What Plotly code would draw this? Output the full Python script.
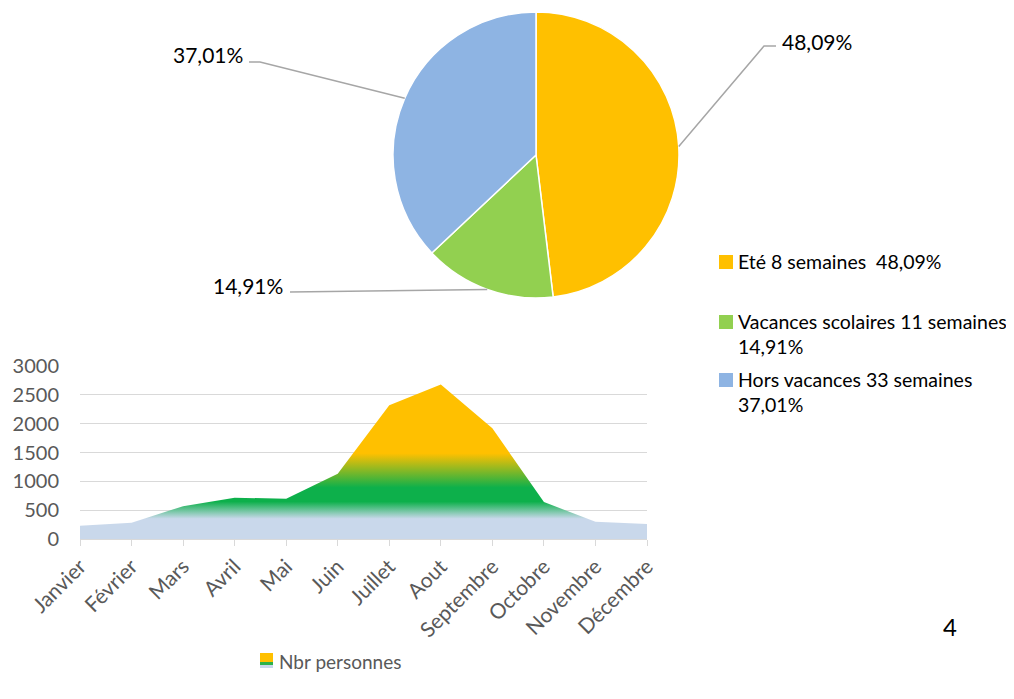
import math
import plotly.graph_objects as go

# ---------------- data ----------------
months = ["Janvier", "Février", "Mars", "Avril", "Mai", "Juin", "Juillet",
          "Aout", "Septembre", "Octobre", "Novembre", "Décembre"]
nbr_personnes = [230, 280, 570, 715, 700, 1130, 2320, 2680, 1920, 640, 300, 260]

pie_labels = ["Eté 8 semaines  48,09%", "Vacances scolaires 11 semaines 14,91%",
              "Hors vacances 33 semaines 37,01%"]
pie_values = [48.09, 14.91, 37.01]
pie_texts = ["48,09%", "14,91%", "37,01%"]
pie_colors = ["#FFC000", "#92D050", "#8EB4E3"]

legend_lines = [["Eté 8 semaines  48,09%"],
                ["Vacances scolaires 11 semaines", "14,91%"],
                ["Hors vacances 33 semaines", "37,01%"]]
area_legend = "Nbr personnes"
y_ticks = [0, 500, 1000, 1500, 2000, 2500, 3000]

W, H = 1014, 699
OFF = 8  # page body margin
FW, FH = W - OFF, H - OFF
FONT = "Lato"


def px(x):
    return (x - OFF) / FW


def py(y):
    return 1 - (y - OFF) / FH


# pie geometry in pixels
pie_left, pie_right, pie_top, pie_bottom = 393, 679, 12, 298
cx = (pie_left + pie_right) / 2
cy = (pie_top + pie_bottom) / 2
R = (pie_right - pie_left) / 2

fig = go.Figure()

fig.add_trace(go.Pie(
    labels=pie_labels, values=pie_values, sort=False, direction="clockwise",
    rotation=0, textinfo="none", hoverinfo="label+percent",
    marker=dict(colors=pie_colors, line=dict(color="white", width=1.5)),
    domain=dict(x=[px(pie_left), px(pie_right)], y=[py(pie_bottom), py(pie_top)]),
    showlegend=False,
))

fig.add_trace(go.Scatter(
    x=months, y=nbr_personnes, name=area_legend, mode="lines",
    line=dict(width=0), fill="tozeroy",
    fillgradient=dict(
        type="vertical", start=0, stop=2700,
        colorscale=[[0.0, "#C9D8EB"], [0.13, "#C9D8EB"], [0.24, "#0DB04B"],
                    [0.33, "#0DB04B"], [0.55, "#FFC000"], [1.0, "#FFC000"]]),
    xaxis="x", yaxis="y", showlegend=False,
))

# ---------------- pie data labels with leader lines ----------------
total = sum(pie_values)
label_pos = [
    dict(elbow=(776, 46), knee=(764, 46), text=(780, 41), anchor="left"),
    dict(elbow=(290, 292), knee=(290, 292), text=(285, 285), anchor="right"),
    dict(elbow=(249, 62), knee=(260, 62), text=(245, 55), anchor="right"),
]
cum = 0
shapes = []
annotations = []
for v, t, lp in zip(pie_values, pie_texts, label_pos):
    mid = (cum + v / 2) / total * 2 * math.pi
    cum += v
    ex = cx + R * math.sin(mid)
    ey = cy - R * math.cos(mid)
    path = "M {} {} L {} {} L {} {}".format(
        px(ex), py(ey), px(lp["knee"][0]), py(lp["knee"][1]),
        px(lp["elbow"][0]), py(lp["elbow"][1]))
    shapes.append(dict(type="path", xref="paper", yref="paper", path=path,
                       line=dict(color="#A6A6A6", width=1.5)))
    annotations.append(dict(
        xref="paper", yref="paper", x=px(lp["text"][0]), y=py(lp["text"][1]),
        text=t, showarrow=False, xanchor=lp["anchor"], yanchor="middle",
        font=dict(family=FONT, size=21, color="#000000")))

# ---------------- pie legend (manual) ----------------
leg_rows = [262, 322, 380]
for color, lines, yrow in zip(pie_colors, legend_lines, leg_rows):
    shapes.append(dict(type="rect", xref="paper", yref="paper",
                       x0=px(719), x1=px(733), y0=py(yrow + 7), y1=py(yrow - 7),
                       fillcolor=color, line=dict(width=0)))
    for i, line in enumerate(lines):
        annotations.append(dict(
            xref="paper", yref="paper",
            x=px(736), y=py(yrow + i * 25),
            text=line, showarrow=False, xanchor="left", yanchor="middle",
            font=dict(family=FONT, size=19.5, color="#000000")))

# ---------------- area legend (manual gradient swatch) ----------------
for c, y0, y1 in [("#FFC000", 653, 662), ("#2DB24A", 662, 665), ("#C9D8EB", 665, 668)]:
    shapes.append(dict(type="rect", xref="paper", yref="paper",
                       x0=px(260), x1=px(273), y0=py(y1), y1=py(y0),
                       fillcolor=c, line=dict(width=0)))
annotations.append(dict(xref="paper", yref="paper", x=px(277), y=py(661),
                        text=area_legend, showarrow=False, xanchor="left",
                        yanchor="middle",
                        font=dict(family=FONT, size=19, color="#595959")))

annotations.append(dict(xref="paper", yref="paper", x=px(950), y=py(626),
                        text="4", showarrow=False, xanchor="center",
                        yanchor="middle",
                        font=dict(family=FONT, size=24, color="#000000")))

fig.update_layout(
    width=FW, height=FH, margin=dict(l=0, r=0, t=0, b=0),
    paper_bgcolor="white", plot_bgcolor="white",
    font=dict(family=FONT, color="#595959"),
    xaxis=dict(domain=[px(80), px(647)], type="category",
               range=[0, len(months) - 1], showgrid=False, automargin=False,
               showline=True, linecolor="#D9D9D9", linewidth=1,
               ticks="outside", ticklen=6, tickcolor="#D9D9D9",
               tickangle=-45, tickfont=dict(size=21, color="#595959"),
               fixedrange=True),
    yaxis=dict(domain=[py(539), py(366)], range=[0, 3000], automargin=False,
               tickvals=y_ticks, showgrid=True, gridcolor="#D9D9D9",
               gridwidth=1, zeroline=False, showline=False,
               tickfont=dict(size=20, color="#595959"), ticklabelstandoff=20,
               fixedrange=True),
    showlegend=False,
    shapes=shapes, annotations=annotations,
)

fig.write_html("out.html")
